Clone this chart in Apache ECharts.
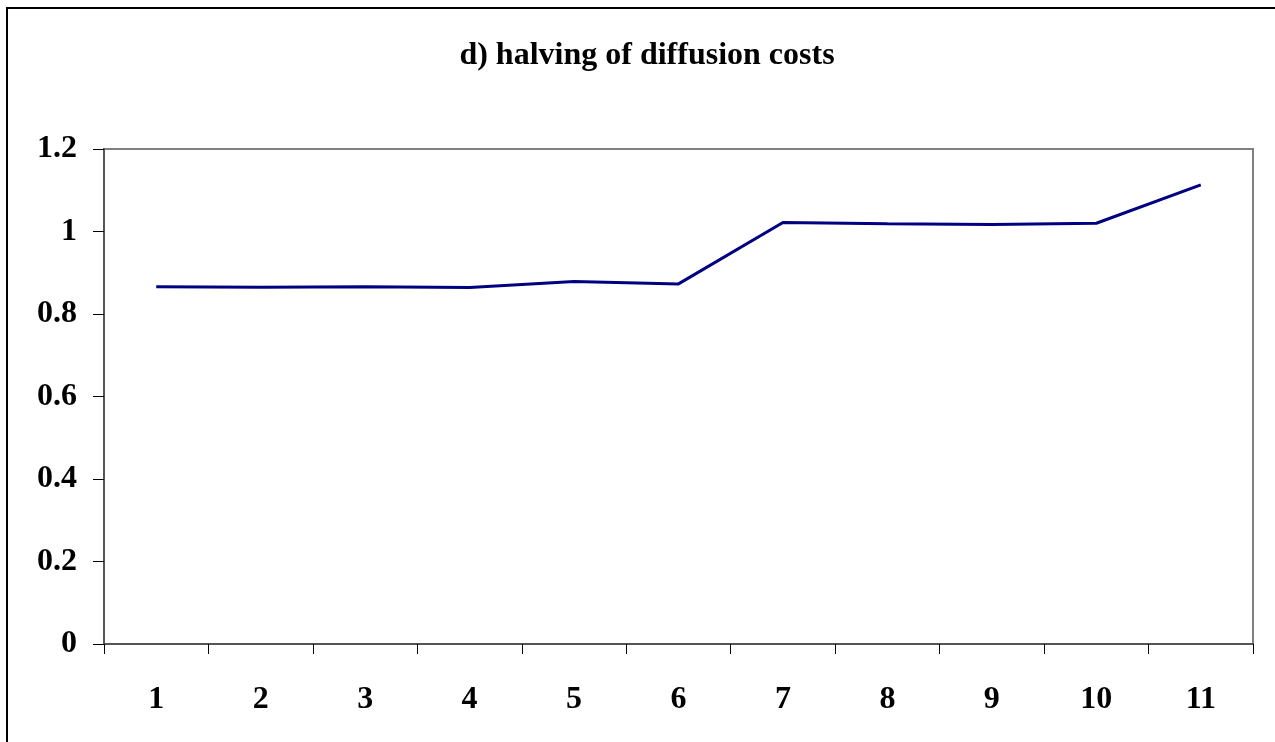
<!DOCTYPE html>
<html>
<head>
<meta charset="utf-8">
<script src="https://cdn.jsdelivr.net/npm/echarts@6/dist/echarts.min.js"></script>
<style>
  html, body { margin: 0; padding: 0; background: #fff; }
  #chart { width: 1275px; height: 742px; }
</style>
</head>
<body>
<div id="chart"></div>
<script>
// values
var periods = ['1', '2', '3', '4', '5', '6', '7', '8', '9', '10', '11'];
var ratio = [0.866, 0.865, 0.866, 0.864, 0.879, 0.873, 1.022, 1.019, 1.017, 1.020, 1.113];
var yTicks = [0, 0.2, 0.4, 0.6, 0.8, 1, 1.2];

var font = '"Liberation Serif", "Times New Roman", serif';

var chart = echarts.init(document.getElementById('chart'));
chart.setOption({
  animation: false,
  backgroundColor: '#fff',
  title: {
    text: 'd) halving of diffusion costs',
    left: 642,
    textAlign: 'center',
    top: 35,
    textStyle: { fontFamily: font, fontWeight: 'bold', fontSize: 32, color: '#000' }
  },
  // outer frame: only its top and left edges are inside the picture
  graphic: [{
    type: 'rect',
    shape: { x: 7, y: 8, width: 1400, height: 900 },
    style: { fill: 'none', stroke: '#000', lineWidth: 2 },
    silent: true
  }],
  grid: {
    left: 104, right: 22, top: 149, bottom: 98,
    show: true, borderColor: '#808080', borderWidth: 2
  },
  xAxis: {
    type: 'category',
    data: periods,
    boundaryGap: true,
    axisLine: { lineStyle: { color: '#555', width: 2 } },
    axisTick: { show: true, length: 10, lineStyle: { color: '#000', width: 1 } },
    axisLabel: { margin: 40, fontFamily: font, fontWeight: 'bold', fontSize: 32, color: '#000' },
    splitLine: { show: false }
  },
  yAxis: {
    type: 'value',
    min: yTicks[0],
    max: yTicks[yTicks.length - 1],
    interval: 0.2,
    axisLine: { show: true, lineStyle: { color: '#555', width: 2 } },
    axisTick: { show: true, length: 11, lineStyle: { color: '#000', width: 1 } },
    axisLabel: { margin: 27, fontFamily: font, fontWeight: 'bold', fontSize: 32, color: '#000' },
    splitLine: { show: false }
  },
  series: [{
    type: 'line',
    data: ratio,
    symbol: 'none',
    lineStyle: { color: '#000080', width: 3 }
  }]
});
</script>
</body>
</html>
